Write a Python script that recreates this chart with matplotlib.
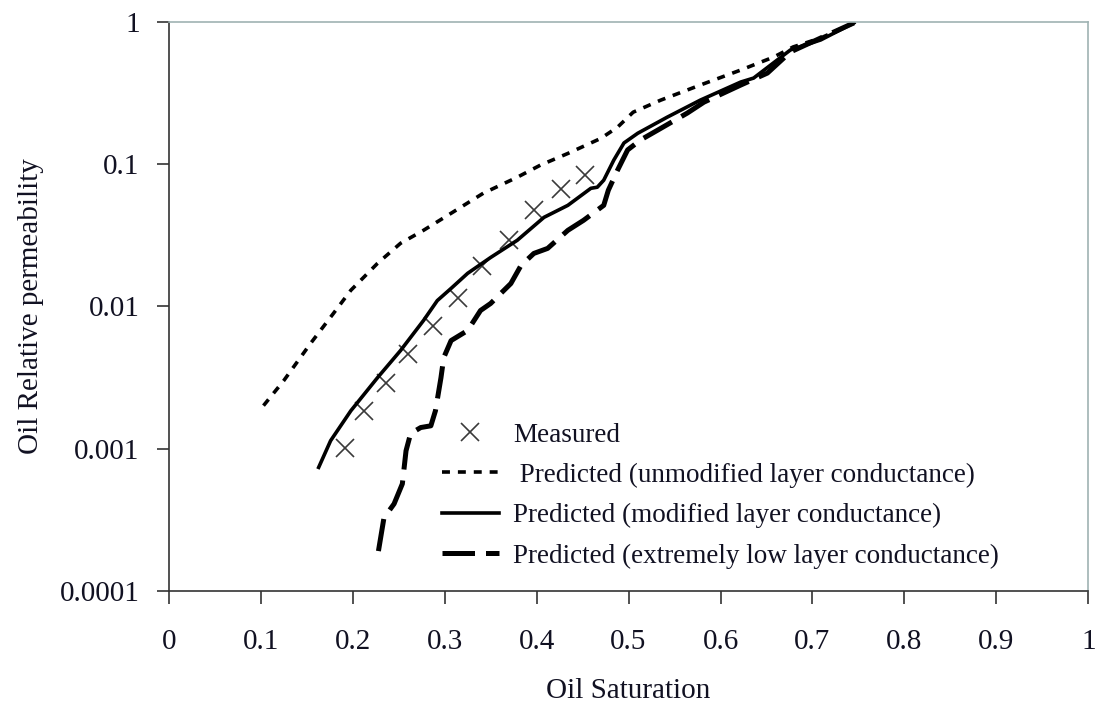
import numpy as np
import matplotlib.pyplot as plt
from matplotlib.ticker import FixedLocator, FixedFormatter

plt.rcParams['font.family'] = ['Liberation Serif', 'DejaVu Serif']

# measured oil relative permeability
so_meas = [0.192, 0.212, 0.236, 0.260, 0.287, 0.314, 0.341, 0.370, 0.397, 0.426, 0.453]
kro_meas = [0.00102, 0.00185, 0.00292, 0.00467, 0.00735, 0.0114, 0.0194, 0.0292,
            0.0474, 0.0667, 0.0837]

# predicted, unmodified layer conductance
so_unmod = [0.103, 0.125, 0.154, 0.179, 0.198, 0.227, 0.252, 0.277, 0.307, 0.342,
            0.379, 0.404, 0.434, 0.470, 0.488, 0.505, 0.535, 0.578, 0.622, 0.658,
            0.679, 0.709, 0.745]
kro_unmod = [0.00201, 0.00301, 0.00548, 0.00893, 0.0130, 0.0201, 0.0278, 0.0343,
             0.0452, 0.0625, 0.0810, 0.0984, 0.119, 0.152, 0.182, 0.232, 0.282,
             0.360, 0.459, 0.567, 0.667, 0.771, 0.984]

# predicted, modified layer conductance
so_mod = [0.163, 0.176, 0.198, 0.227, 0.252, 0.277, 0.292, 0.307, 0.325, 0.350,
          0.379, 0.408, 0.434, 0.459, 0.466, 0.473, 0.484, 0.495, 0.510, 0.542,
          0.578, 0.622, 0.636, 0.676, 0.709, 0.745]
kro_mod = [0.00074, 0.00114, 0.00185, 0.00316, 0.00490, 0.00797, 0.0110, 0.0134,
           0.0171, 0.0221, 0.0292, 0.0423, 0.0514, 0.0677, 0.0689, 0.0772, 0.107,
           0.141, 0.165, 0.214, 0.282, 0.378, 0.403, 0.635, 0.747, 0.984]

# predicted, extremely low layer conductance
so_low = [0.228, 0.234, 0.245, 0.254, 0.258, 0.263, 0.274, 0.285, 0.290, 0.296,
          0.299, 0.307, 0.325, 0.339, 0.350, 0.372, 0.383, 0.397, 0.412, 0.434,
          0.451, 0.473, 0.478, 0.488, 0.499, 0.513, 0.532, 0.564, 0.582, 0.622,
          0.651, 0.676, 0.709, 0.745]
kro_low = [0.000191, 0.000327, 0.000410, 0.000567, 0.000968, 0.00128, 0.00141,
           0.00145, 0.00185, 0.00316, 0.00437, 0.00576, 0.00678, 0.00937, 0.0105,
           0.0145, 0.0194, 0.0236, 0.0256, 0.0343, 0.0403, 0.0514, 0.0656, 0.0907,
           0.126, 0.148, 0.174, 0.229, 0.273, 0.360, 0.437, 0.615, 0.771, 0.984]

x_ticks = [0, 0.1, 0.2, 0.3, 0.4, 0.5, 0.6, 0.7, 0.8, 0.9, 1]
x_tick_labels = ['0', '0.1', '0.2', '0.3', '0.4', '0.5', '0.6', '0.7', '0.8', '0.9', '1']
y_ticks = [0.0001, 0.001, 0.01, 0.1, 1]
y_tick_labels = ['0.0001', '0.001', '0.01', '0.1', '1']

fig = plt.figure(figsize=(10.96, 7.07), dpi=100)
ax = fig.add_axes([0.154, 0.164, 0.839, 0.805])

ax.plot(so_meas, kro_meas, linestyle='none', marker='x', markersize=13,
        markeredgewidth=1.2, color='#3a3a3a', label='Measured')
ax.plot(so_unmod, kro_unmod, color='black', linewidth=2.6, linestyle=(0, (2.2, 2.2)),
        label=' Predicted (unmodified layer conductance)')
ax.plot(so_mod, kro_mod, color='black', linewidth=2.6, linestyle='-',
        label='Predicted (modified layer conductance)')
ax.plot(so_low, kro_low, color='black', linewidth=3.6, linestyle=(0, (6.5, 2.2)),
        label='Predicted (extremely low layer conductance)')

ax.set_yscale('log')
ax.set_xlim(0, 1)
ax.set_ylim(0.0001, 1)
ax.xaxis.set_major_locator(FixedLocator(x_ticks))
ax.xaxis.set_major_formatter(FixedFormatter(x_tick_labels))
ax.yaxis.set_major_locator(FixedLocator(y_ticks))
ax.yaxis.set_major_formatter(FixedFormatter(y_tick_labels))
ax.yaxis.set_minor_locator(FixedLocator([]))

ax.tick_params(axis='both', direction='out', length=9, width=1.2, color='#333333',
               labelsize=21, labelcolor='#111122')
ax.tick_params(axis='x', pad=18)
ax.tick_params(axis='y', pad=12)

for side in ['left', 'bottom']:
    ax.spines[side].set_color('#333333')
    ax.spines[side].set_linewidth(1.2)
for side in ['top', 'right']:
    ax.spines[side].set_color('#9fb3b3')
    ax.spines[side].set_linewidth(1.2)

ax.set_xlabel('Oil Saturation', fontsize=21, color='#111122', labelpad=17)
ax.set_ylabel('Oil Relative permeability', fontsize=21, color='#111122', labelpad=11)

ax.legend(loc='upper left', bbox_to_anchor=(0.285, 0.315), frameon=False,
          fontsize=19.5, handlelength=2.1, handletextpad=0.55, labelspacing=0.56,
          borderaxespad=0, labelcolor='#111122')

fig.savefig('out.png', dpi=100)
